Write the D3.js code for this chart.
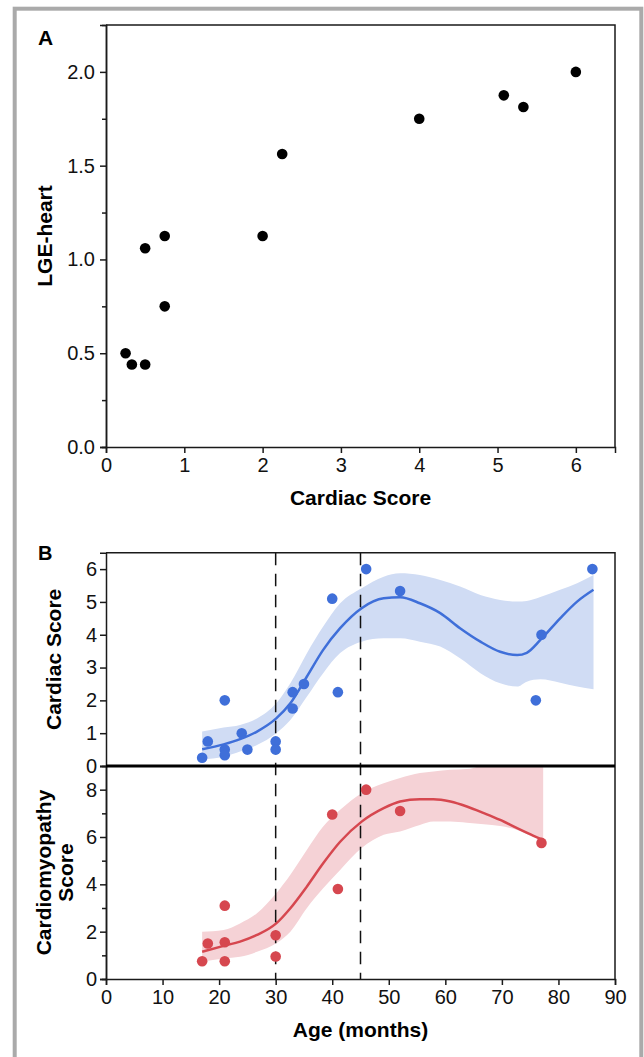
<!DOCTYPE html>
<html>
<head>
<meta charset="utf-8">
<script src="https://cdn.jsdelivr.net/npm/d3@7"></script>
<style>
	body { margin: 0; background: #fff; }
	text { font-family: 'Liberation Sans', Arial, sans-serif; }
</style>
</head>
<body>
<script>

// PANEL A DATA
var cardiacA = [0.25, 0.33, 0.5, 0.5, 0.75, 0.75, 2, 2.25, 4, 5.08, 5.33, 6];
var lgeA = [0.5, 0.44, 0.44, 1.06, 1.125, 0.75, 1.125, 1.5625, 1.75, 1.875, 1.8125, 2.0];

// PANEL B DATA (cardiac score vs age)
var ageC = [17, 18, 21, 21, 21, 24, 25, 30, 30, 33, 33, 35, 40, 41, 46, 52, 76, 77, 86];
var cardC = [0.25, 0.75, 2, 0.5, 0.33, 1, 0.5, 0.75, 0.5, 2.25, 1.75, 2.5, 5.1, 2.25, 6, 5.33, 2, 4, 6];

var fitAgeC = [17, 20.8, 23.7, 26.7, 30.1, 32.6, 35.5, 38.4, 41.4, 45.2, 49.1, 52, 55.5, 59.1, 62.6, 66.2, 69.7, 72.7, 74.4, 76.8, 80.3, 83.3, 86.2];
var fitC = [0.51, 0.66, 0.82, 1.05, 1.45, 1.91, 2.72, 3.54, 4.2, 4.81, 5.11, 5.14, 4.96, 4.66, 4.2, 3.79, 3.48, 3.38, 3.45, 3.84, 4.5, 5.01, 5.37];
var loC = [0.2, 0.28, 0.44, 0.64, 1.0, 1.4, 2.11, 2.83, 3.44, 3.79, 3.89, 3.89, 3.79, 3.64, 3.28, 2.83, 2.52, 2.42, 2.57, 2.64, 2.54, 2.42, 2.34];
var hiC = [1.05, 1.17, 1.25, 1.45, 1.91, 2.52, 3.43, 4.25, 4.96, 5.42, 5.77, 5.87, 5.82, 5.67, 5.47, 5.21, 5.06, 5.01, 5.03, 5.15, 5.37, 5.57, 5.82];

// PANEL B DATA (cardiomyopathy score vs age)
var ageM = [17, 18, 21, 21, 21, 30, 30, 40, 41, 46, 52, 77];
var cardioM = [0.75, 1.5, 3.1, 1.55, 0.75, 1.85, 0.95, 6.95, 3.8, 8, 7.1, 5.75];

var fitAgeM = [17, 20.8, 23.7, 26.7, 30.1, 32.6, 35.5, 38.4, 41.4, 45.2, 49.1, 52, 55.5, 57.9, 60.9, 63.8, 66.8, 69.7, 72.7, 75.6, 77.3];
var fitM = [1.15, 1.4, 1.58, 1.86, 2.35, 2.99, 3.9, 4.89, 5.8, 6.65, 7.22, 7.5, 7.6, 7.6, 7.5, 7.29, 7.01, 6.72, 6.37, 6.05, 5.88];
var loM = [0.73, 0.87, 0.94, 1.15, 1.51, 2.0, 2.99, 3.83, 4.61, 5.53, 6.09, 6.23, 6.51, 6.65, 6.65, 6.6, 6.54, 6.46, 6.3, 6.0, 5.85];
var hiM = [2.0, 2.07, 2.35, 2.78, 3.62, 4.4, 5.45, 6.44, 7.15, 7.85, 8.27, 8.49, 8.7, 8.77, 8.84, 8.87, 9.05, 9.3, 9.6, 9.9, 10];

// cutoffs (months)
var cutoffs = [30, 45];

// TICKS
var ticksA_y = [0, 0.5, 1, 1.5, 2];
var ticksA_yMinor = [0.25, 0.75, 1.25, 1.75];
var ticksA_x = [0, 1, 2, 3, 4, 5, 6];
var ticksC_y = [0, 1, 2, 3, 4, 5, 6];
var ticksM_y = [0, 2, 4, 6, 8];
var ticksM_yMinor = [1, 3, 5, 7];
var ticksAge = [0, 10, 20, 30, 40, 50, 60, 70, 80, 90];

var blue = '#3f6fd9';
var blueBand = '#d0dcf4';
var red = '#d6474f';
var redBand = '#f5d2d6';
var ink = '#1a1a1a';

var svg = d3.select('body').append('svg')
	.attr('width', 644)
	.attr('height', 1057);

// outer grey frame
svg.append('rect')
	.attr('x', 14.7)
	.attr('y', 8.7)
	.attr('width', 626.6)
	.attr('height', 1100)
	.attr('fill', 'none')
	.attr('stroke', '#aaa')
	.attr('stroke-width', 4);

function styleAxis(g) {
	g.selectAll('path, line').attr('stroke', ink).attr('stroke-width', 1.5);
	g.selectAll('text')
		.attr('fill', '#111')
		.style('font-size', '20px');
}

var intFmt = d3.format('d');

//PANEL A STARTS HERE

var xA = d3.scaleLinear().domain([0, 6.5]).range([106, 615]);
var yA = d3.scaleLinear().domain([0, 2.25]).range([447, 25]);

// box top + right
svg.append('path')
	.attr('d', 'M' + xA(0) + ',' + yA(2.25) + 'H' + xA(6.5) + 'V' + yA(0))
	.attr('fill', 'none')
	.attr('stroke', ink)
	.attr('stroke-width', 1.5);

svg.append('g')
	.attr('transform', 'translate(' + xA(0) + ',0)')
	.call(d3.axisLeft(yA).tickValues(ticksA_yMinor).tickSize(4).tickFormat(''))
	.call(styleAxis);

svg.append('g')
	.attr('transform', 'translate(' + xA(0) + ',0)')
	.call(d3.axisLeft(yA).tickValues(ticksA_y).tickSizeOuter(0).tickSize(6).tickPadding(5).tickFormat(d3.format('.1f')))
	.call(styleAxis);

svg.append('g')
	.attr('transform', 'translate(0,' + yA(0) + ')')
	.call(d3.axisBottom(xA).tickValues(ticksA_x).tickSizeOuter(0).tickSize(6).tickPadding(5).tickFormat(intFmt))
	.call(styleAxis);

svg.append('g').selectAll('circle')
	.data(cardiacA)
	.enter().append('circle')
	.attr('cx', function(d){ return xA(d); })
	.attr('cy', function(d, i){ return yA(lgeA[i]); })
	.attr('r', 5.3)
	.attr('fill', '#000');

svg.append('text')
	.attr('x', 38)
	.attr('y', 45)
	.attr('font-weight', 'bold')
	.style('font-size', '21px')
	.text('A');

svg.append('text')
	.attr('transform', 'translate(52,' + ((yA(0) + yA(2.25)) / 2) + ') rotate(-90)')
	.attr('text-anchor', 'middle')
	.attr('font-weight', 'bold')
	.style('font-size', '21px')
	.text('LGE-heart');

svg.append('text')
	.attr('x', (xA(0) + xA(6.5)) / 2)
	.attr('y', 505)
	.attr('text-anchor', 'middle')
	.attr('font-weight', 'bold')
	.style('font-size', '21px')
	.text('Cardiac Score');

//PANEL A ENDS HERE

//PANEL B STARTS HERE

var xB = d3.scaleLinear().domain([0, 90]).range([106, 615]);
var yC = d3.scaleLinear().domain([0, 6.5]).range([766, 552.7]);
var yM = d3.scaleLinear().domain([0, 9]).range([979, 766]);

svg.append('clipPath').attr('id', 'clipC')
	.append('rect').attr('x', xB(0)).attr('y', yC(6.5)).attr('width', xB(90) - xB(0)).attr('height', yC(0) - yC(6.5));
svg.append('clipPath').attr('id', 'clipM')
	.append('rect').attr('x', xB(0)).attr('y', yM(9)).attr('width', xB(90) - xB(0)).attr('height', yM(0) - yM(9));

var bandC = d3.area()
	.x(function(d){ return xB(d); })
	.y0(function(d, i){ return yC(loC[i]); })
	.y1(function(d, i){ return yC(hiC[i]); })
	.curve(d3.curveMonotoneX);
var lineC = d3.line()
	.x(function(d){ return xB(d); })
	.y(function(d, i){ return yC(fitC[i]); })
	.curve(d3.curveMonotoneX);

var bandM = d3.area()
	.x(function(d){ return xB(d); })
	.y0(function(d, i){ return yM(loM[i]); })
	.y1(function(d, i){ return yM(hiM[i]); })
	.curve(d3.curveMonotoneX);
var lineM = d3.line()
	.x(function(d){ return xB(d); })
	.y(function(d, i){ return yM(fitM[i]); })
	.curve(d3.curveMonotoneX);

// top sub-panel: cardiac score
var gC = svg.append('g').attr('clip-path', 'url(#clipC)');
gC.append('path').attr('d', bandC(fitAgeC)).attr('fill', blueBand);
gC.append('path').attr('d', lineC(fitAgeC)).attr('fill', 'none').attr('stroke', blue).attr('stroke-width', 2.5);

// bottom sub-panel: cardiomyopathy score
var gM = svg.append('g').attr('clip-path', 'url(#clipM)');
gM.append('path').attr('d', bandM(fitAgeM)).attr('fill', redBand);
gM.append('path').attr('d', lineM(fitAgeM)).attr('fill', 'none').attr('stroke', red).attr('stroke-width', 2.5);

// dashed age cutoffs
svg.append('g').selectAll('line')
	.data(cutoffs)
	.enter().append('line')
	.attr('x1', function(d){ return xB(d); })
	.attr('x2', function(d){ return xB(d); })
	.attr('y1', yC(6.5))
	.attr('y2', yM(0))
	.attr('stroke', '#111')
	.attr('stroke-width', 1.5)
	.attr('stroke-dasharray', '12.5,8.5');

svg.append('g').selectAll('circle')
	.data(ageC)
	.enter().append('circle')
	.attr('cx', function(d){ return xB(d); })
	.attr('cy', function(d, i){ return yC(cardC[i]); })
	.attr('r', 5.3)
	.attr('fill', blue);

svg.append('g').selectAll('circle')
	.data(ageM)
	.enter().append('circle')
	.attr('cx', function(d){ return xB(d); })
	.attr('cy', function(d, i){ return yM(cardioM[i]); })
	.attr('r', 5.3)
	.attr('fill', red);

// box lines
svg.append('path')
	.attr('d', 'M' + xB(0) + ',' + yC(6.5) + 'H' + xB(90) + 'V' + yM(0))
	.attr('fill', 'none')
	.attr('stroke', ink)
	.attr('stroke-width', 1.5);

svg.append('g')
	.attr('transform', 'translate(' + xB(0) + ',0)')
	.call(d3.axisLeft(yC).tickValues(ticksC_y).tickSizeOuter(0).tickSize(6).tickPadding(3).tickFormat(intFmt))
	.call(styleAxis);

svg.append('g')
	.attr('transform', 'translate(' + xB(0) + ',0)')
	.call(d3.axisLeft(yM).tickValues(ticksM_yMinor).tickSize(4).tickFormat(''))
	.call(styleAxis);

svg.append('g')
	.attr('transform', 'translate(' + xB(0) + ',0)')
	.call(d3.axisLeft(yM).tickValues(ticksM_y).tickSizeOuter(0).tickSize(6).tickPadding(3).tickFormat(intFmt))
	.call(styleAxis);

svg.append('g')
	.attr('transform', 'translate(0,' + yM(0) + ')')
	.call(d3.axisBottom(xB).tickValues(ticksAge).tickSizeOuter(0).tickSize(6).tickPadding(5).tickFormat(intFmt))
	.call(styleAxis);

// divider between the two sub-panels
svg.append('line')
	.attr('x1', xB(0))
	.attr('x2', xB(90))
	.attr('y1', yC(0))
	.attr('y2', yC(0))
	.attr('stroke', '#000')
	.attr('stroke-width', 2.8);

svg.append('text')
	.attr('x', 38)
	.attr('y', 560)
	.attr('font-weight', 'bold')
	.style('font-size', '20px')
	.text('B');

svg.append('text')
	.attr('transform', 'translate(61,' + ((yC(0) + yC(6.5)) / 2) + ') rotate(-90)')
	.attr('text-anchor', 'middle')
	.attr('font-weight', 'bold')
	.style('font-size', '21px')
	.text('Cardiac Score');

var yLab = svg.append('text')
	.attr('transform', 'translate(51,' + ((yM(0) + yM(9)) / 2) + ') rotate(-90)')
	.attr('text-anchor', 'middle')
	.attr('font-weight', 'bold')
	.style('font-size', '21px');
yLab.append('tspan').attr('x', 0).attr('dy', 0).text('Cardiomyopathy');
yLab.append('tspan').attr('x', 0).attr('dy', 22).text('Score');

svg.append('text')
	.attr('x', (xB(0) + xB(90)) / 2)
	.attr('y', 1037)
	.attr('text-anchor', 'middle')
	.attr('font-weight', 'bold')
	.style('font-size', '21px')
	.text('Age (months)');

//PANEL B ENDS HERE

</script>
</body>
</html>
